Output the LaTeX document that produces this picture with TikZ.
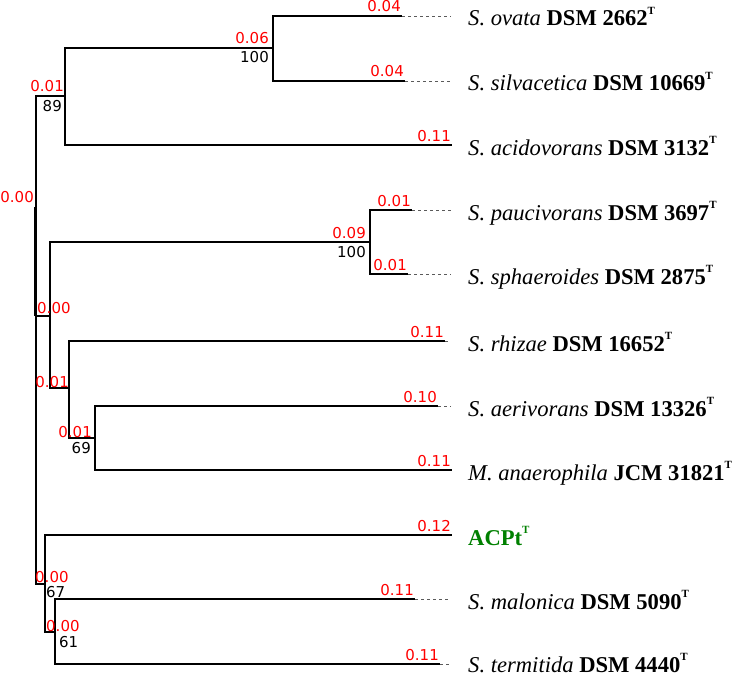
\documentclass[tikz,border=0pt]{standalone}
\usepackage{fontspec}
\setmainfont{Liberation Serif}
\newfontfamily\numfont{DejaVu Sans}
\usetikzlibrary{positioning}
\definecolor{distC}{RGB}{255,   0,   0}
\definecolor{acptC}{RGB}{  0, 128,   0}
\definecolor{dashC}{RGB}{ 90,  90,  90}
\newcommand{\typeT}{\raisebox{11.5pt}{\fontsize{11}{11}\selectfont\bfseries T}}

\begin{document}
\begin{tikzpicture}[x=1pt, y=-1pt,
  branch/.style={black, line width=1.5pt},
  tipdash/.style={dashC, line width=0.7pt, dash pattern=on 3pt off 3pt},
  dist/.style={text=distC, font=\numfont\fontsize{15}{15}\selectfont,
               inner sep=0pt, anchor=base east},
  boot/.style={dist, text=black},
  taxon/.style={font=\fontsize{22.6}{22.6}\selectfont, inner sep=0pt,
                anchor=base west, yshift=-10pt}]

\useasboundingbox (0,0) rectangle (735,674);

% ============================================================
% Internal nodes (px grid, y downwards)
% ============================================================
\coordinate (R) at (36,207);
\coordinate (B) at (65,96);
\coordinate (A) at (273,48);
\coordinate (C) at (50,316);
\coordinate (D) at (370,242);
\coordinate (E) at (69,388);
\coordinate (F) at (95,438);
\coordinate (G) at (45,584);
\coordinate (H) at (55,632);

% Tips (end of solid branch)
\coordinate (t1)  at (402,16);
\coordinate (t2)  at (405,81);
\coordinate (t3)  at (452,145);
\coordinate (t4)  at (412,210);
\coordinate (t5)  at (408,274);
\coordinate (t6)  at (445,341);
\coordinate (t7)  at (438,406);
\coordinate (t8)  at (452,470);
\coordinate (t9)  at (452,535);
\coordinate (t10) at (415,599);
\coordinate (t11) at (440,664);

\coordinate (dashEnd) at (451,0);
\coordinate (txt)     at (468,0);

% ============================================================
% Branches
% ============================================================
\draw[branch] (R) |- (B);
\draw[branch] (R) |- (C);
\draw[branch] (R) |- (G);
\draw[branch, line width=2.8pt] ([xshift=-0.7pt]R) -- ([xshift=-0.7pt]R |- C);

\draw[branch] (B) |- (A);
\draw[branch] (B) |- (t3);
\draw[branch] (A) |- (t1);
\draw[branch] (A) |- (t2);

\draw[branch] (C) |- (D);
\draw[branch] (C) |- (E);
\draw[branch] (D) |- (t4);
\draw[branch] (D) |- (t5);
\draw[branch] (E) |- (t6);
\draw[branch] (E) |- (F);
\draw[branch] (F) |- (t7);
\draw[branch] (F) |- (t8);

\draw[branch] (G) |- (t9);
\draw[branch] (G) |- (H);
\draw[branch] (H) |- (t10);
\draw[branch] (H) |- (t11);

% Dotted guides to the labels
\foreach \t in {t1, t2, t4, t5, t6, t7, t10, t11}{
  \draw[tipdash] (\t) -- (\t -| dashEnd);
}

% ============================================================
% Branch lengths (red) and support values (black)
% ============================================================
\node[dist, xshift=-2pt, yshift=5pt] (dR) at (R) {0.00};

\node[dist, xshift=-1pt, yshift=4pt]  (dB) at (B) {0.01};
\node[boot, xshift=-3pt, yshift=-15pt] (bB) at (B) {89};
\node[dist, xshift=-4pt, yshift=4pt]  (dA) at (A) {0.06};
\node[boot, xshift=-4pt, yshift=-15pt] (bA) at (A) {100};

\node[dist, anchor=base west, xshift=-13pt, yshift=3pt] (dC) at (C) {0.00};
\node[dist, xshift=-4pt, yshift=4pt]  (dD) at (D) {0.09};
\node[boot, xshift=-4pt, yshift=-15pt] (bD) at (D) {100};
\node[dist, xshift=0pt, yshift=1pt]   (dE) at (E) {0.01};
\node[dist, xshift=-3pt, yshift=1pt]  (dF) at (F) {0.01};
\node[boot, xshift=-4pt, yshift=-15pt] (bF) at (F) {69};

\node[dist, anchor=base west, xshift=-10pt, yshift=2pt] (dG) at (G) {0.00};
\node[boot, anchor=base west, xshift=1pt, yshift=-13pt] (bG) at (G) {67};
\node[dist, anchor=base west, xshift=-9pt, yshift=1pt]  (dH) at (H) {0.00};
\node[boot, anchor=base west, xshift=4pt, yshift=-15pt] (bH) at (H) {61};

\foreach \t/\d in {t1/0.04, t2/0.04, t3/0.11, t4/0.01, t5/0.01, t6/0.11,
                   t7/0.10, t8/0.11, t9/0.12, t10/0.11, t11/0.11}{
  \node[dist, xshift=-1pt, yshift=4pt] (d\t) at (\t) {\d};
}

% ============================================================
% Taxa
% ============================================================
\node[taxon] (l1)  at (t1 -| txt)  {\textit{S. ovata} \textbf{DSM 2662}\typeT};
\node[taxon] (l2)  at (t2 -| txt)  {\textit{S. silvacetica} \textbf{DSM 10669}\typeT};
\node[taxon] (l3)  at (t3 -| txt)  {\textit{S. acidovorans} \textbf{DSM 3132}\typeT};
\node[taxon] (l4)  at (t4 -| txt)  {\textit{S. paucivorans} \textbf{DSM 3697}\typeT};
\node[taxon] (l5)  at (t5 -| txt)  {\textit{S. sphaeroides} \textbf{DSM 2875}\typeT};
\node[taxon] (l6)  at (t6 -| txt)  {\textit{S. rhizae} \textbf{DSM 16652}\typeT};
\node[taxon] (l7)  at (t7 -| txt)  {\textit{S. aerivorans} \textbf{DSM 13326}\typeT};
\node[taxon] (l8)  at (t8 -| txt)  {\textit{M. anaerophila} \textbf{JCM 31821}\typeT};
\node[taxon, text=acptC] (l9) at (t9 -| txt) {\textbf{ACPt}\typeT};
\node[taxon] (l10) at (t10 -| txt) {\textit{S. malonica} \textbf{DSM 5090}\typeT};
\node[taxon, yshift=2pt] (l11) at (t11 -| txt) {\textit{S. termitida} \textbf{DSM 4440}\typeT};

\end{tikzpicture}
\end{document}
